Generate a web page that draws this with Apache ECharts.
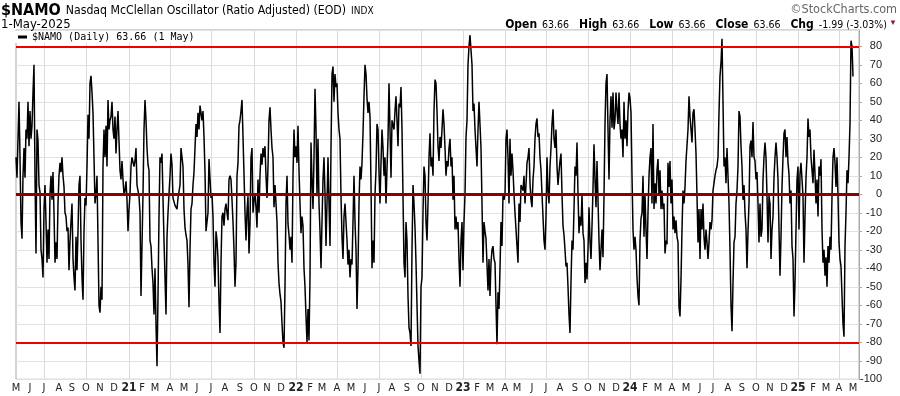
<!DOCTYPE html>
<html><head><meta charset="utf-8">
<script src="https://cdn.jsdelivr.net/npm/echarts@6/dist/echarts.min.js"></script>
<style>html,body{margin:0;padding:0;background:#fff}#c{width:900px;height:396px}</style>
</head><body><div id="c"></div>
<script>
// ---- data (about one value per 1.5 trading days) ----
// May 2020 - Sep 2020
const namoPart1 = [20,9,30,50,20,-15,-24,10,25,9,35,30,50,26,45,30,37,55,70,10,-32,35,29,5,1,-30,-35,-45,-8,5,-15,-37,-19,-35,0,10,-3,12,-10,-37,-26,-35,-5,10,17,12,20,10,4,-10,-12,-20,-18,-41,-25,-15,-5,-35,-45,-52,-23,-41,-20,5,10,-25,-45,-57,-20,-2,-6,15,43,30,60,64,55,44,20,-5,0,10,-25,-60,-64,-50,-57,15,35,20,37,15];
// Oct 2020 - Mar 2021
const namoPart2 = [51,35,40,42,50,35,30,42,22,35,45,29,13,8,18,8,0,2,7,-3,-20,-8,0,15,20,20,15,18,25,5,5,-1,-10,-55,-55,0,35,51,40,25,16,13,-25,-28,-40,-48,-65,-40,-70,-93,-55,-12,20,17,22,-2,-25,-45,-65,-23,-10,0,10,22,16,-2,-3,-6,-5,-8,-2,-1,5,25,25,15,-8,-18,-22,-25,-38,-61,-30,-8,-5,5,12,12,38,31,44,35,48];
// Apr 2021 - Dec 2021
const namoPart3 = [49,40,45,31,12,-20,-15,-10,19,19,-2,0,-12,-37,-50,-20,-25,-35,-58,-75,-37,-12,-10,-17,-8,-5,-10,-14,8,10,8,-3,-15,-30,-50,-37,10,17,37,40,45,51,31,11,-10,-25,-9,-1,-32,-16,20,25,-10,-3,0,-7,-18,8,-10,10,22,16,25,20,26,10,-2,15,40,47,35,25,20,-7,5,4,-15,-37,-48,-54,-58,-70,-80,-83,-50,-5,10,-16,-22,-30,-23,-37,10];
// Dec 2021 - Jul 2022
const namoPart4 = [35,20,26,17,37,13,-5,-21,-12,-17,-40,-50,-66,-80,-62,-79,-45,28,8,-8,20,57,35,-1,30,-5,-20,-40,-15,8,20,0,-28,-5,20,-5,-28,25,65,69,50,65,58,60,44,35,30,-1,-23,-35,-12,-5,-15,-25,-38,-30,-45,-35,-38,-15,10,-15,-30,-62,-40,-5,15,8,17,33,53,70,65,52,44,50,42,5,-40,-25,-37,0,13,38,35,12,-5,17,35,25,10,20,-5];
// Jul 2022 - Jan 2023
const namoPart5 = [14,30,60,35,9,40,40,35,45,53,40,26,49,47,58,35,-1,-37,-45,-15,-25,-55,-72,-75,-82,-30,5,-5,-18,-37,-60,-82,-90,-97,-50,-45,-10,15,10,-15,-25,-5,20,33,15,20,10,45,62,60,45,26,18,31,25,35,46,38,25,10,18,15,25,30,15,20,-3,10,-19,-12,-19,-15,-35,-50,-25,-15,-41,-15,0,31,40,70,80,86,85,70,45,49,35,36,15,35,50];
// Jan 2023 - Aug 2023
const namoPart6 = [50,25,-5,-37,-15,-20,-24,-23,-52,-35,-55,-37,-30,-28,-35,-37,-60,-81,-53,-62,-40,-15,-28,0,-3,0,30,35,20,-5,30,10,22,13,0,-10,-19,-28,-37,-5,-15,5,4,2,10,-5,5,17,20,25,6,-3,-7,8,15,30,38,41,31,33,20,13,0,-12,-25,-30,-12,20,2,-5,15,25,38,46,30,25,35,15,5,12,18,22,0,-17,-22,-30,-39,-37,-50,-65,-75,-47,-25];
// Aug 2023 - Feb 2024
const namoPart7 = [-30,-8,15,10,28,0,-21,-12,-17,0,-21,-25,-48,-37,-46,-30,-7,-25,-35,-17,3,27,8,-7,18,-3,-25,-41,-30,-19,-34,-1,38,60,65,35,8,40,53,36,55,35,40,55,45,38,55,38,30,35,20,50,30,40,26,45,55,52,44,10,-19,-30,-23,-30,-45,-55,-60,-25,-13,-10,10,-23,0,-19,-35,-10,10,20,25,-5,38,-8,6,-5,13,19,0,13,-8,2,-8,-5,-32];
// Feb 2024 - Sep 2024
const namoPart8 = [-25,-27,17,4,18,-5,8,-19,-12,-21,-14,-23,-26,-61,-66,-46,-19,2,-5,4,18,19,35,53,42,35,28,44,46,35,22,-1,-26,-8,-35,-8,-19,-5,-23,-30,-19,-26,-35,-26,-15,-19,-14,2,6,10,13,15,20,44,64,71,84,50,15,20,6,25,10,-5,-30,-60,-74,-48,-26,-23,-5,2,15,45,42,26,15,-3,5,-10,-19,-40,-20,-5,26,29,20,39,20,18,8,12,-5];
// Oct 2024 - 1 May 2025
const namoPart9 = [-26,-5,-23,-19,8,20,28,20,-1,-26,-1,-5,-35,-19,-12,9,20,28,20,8,-19,-44,-23,4,20,33,35,20,31,17,11,-5,2,-28,-35,-66,-48,-19,8,15,-19,11,17,8,-1,-37,-12,9,20,41,31,35,20,13,6,24,11,-5,8,-12,15,10,19,-19,-37,-30,-44,-34,-50,-28,-37,-23,-30,-1,20,25,17,4,20,-1,-26,-35,-39,-55,-70,-77,-28,-10,13,6,20,38,83,80,63.66];

const firstDay = '2020-05-01';
const lastDay = '2025-05-01';
const refLevels = [80, 0, -80];
const yMin = -100, yMax = 88.8, yStep = 10;
const monthLetters = ['J','F','M','A','M','J','J','A','S','O','N','D'];
const quarterMonths = [1, 4, 7, 10];
const seriesName = '$NAMO (Daily) 63.66 (1 May)';
const quote = {open: '63.66', high: '63.66', low: '63.66', close: '63.66', chg: '-1.99', chgPct: '-3.03'};

// ---- categories: weekdays between first and last day, evenly sampled ----
const values = [].concat(namoPart1, namoPart2, namoPart3, namoPart4, namoPart5, namoPart6, namoPart7, namoPart8, namoPart9);
function weekdays(a, b) {
  const out = [];
  let t = Date.parse(a + 'T00:00:00Z');
  const end = Date.parse(b + 'T00:00:00Z');
  while (t <= end) {
    const d = new Date(t).getUTCDay();
    if (d !== 0 && d !== 6) out.push(t);
    t += 86400000;
  }
  return out;
}
const W = weekdays(firstDay, lastDay);
const N = values.length;
const fmt = t => new Date(t).toISOString().slice(0, 10);
const cats = values.map((_, i) => fmt(W[Math.round(i * (W.length - 1) / (N - 1))]));
const lastT = W[W.length - 1];
for (let k = 1; k <= 6; k++) cats.push(fmt(lastT + k * 2 * 86400000)); // empty room before the right frame
const monthStart = cats.map((c, i) => i === 0 || c.slice(0, 7) !== cats[i - 1].slice(0, 7));

const NARROW = '"Liberation Sans Narrow","Arial Narrow","DejaVu Sans Condensed",sans-serif';

const chart = echarts.init(document.getElementById('c'), null, {renderer: 'canvas'});
chart.setOption({
  animation: false,
  backgroundColor: '#fff',
  title: [
    {left: 1, top: 2, padding: 0,
     text: '{a|$NAMO} {b|Nasdaq McClellan Oscillator (Ratio Adjusted) (EOD)} {c|INDX}',
     textStyle: {rich: {
       a: {fontFamily: NARROW, fontWeight: 'bold', fontSize: 16, color: '#000'},
       b: {fontFamily: NARROW, fontWeight: 'normal', fontSize: 12.2, color: '#000'},
       c: {fontFamily: NARROW, fontWeight: 'normal', fontSize: 10, color: '#000'}
     }}},
    {left: 1, top: 18, padding: 0, text: '1-May-2025',
     textStyle: {fontFamily: NARROW, fontSize: 13, fontWeight: 'normal', color: '#000'}},
    {right: 3, top: 3, padding: 0, text: '©StockCharts.com',
     textStyle: {fontFamily: NARROW, fontSize: 12.5, fontWeight: 'normal', color: '#666'}},
    {right: 13, top: 16, padding: 0,
     text: '{k|Open} {v|' + quote.open + '}  {k|High} {v|' + quote.high + '}  {k|Low} {v|' + quote.low +
           '}  {k|Close} {v|' + quote.close + '}  {k|Chg} {v|' + quote.chg + ' (' + quote.chgPct + '%)}',
     textStyle: {rich: {
       k: {fontFamily: NARROW, fontWeight: 'bold', fontSize: 12, color: '#000'},
       v: {fontFamily: NARROW, fontWeight: 'normal', fontSize: 10.5, color: '#000'}
     }}},
    {right: 3, top: 19, padding: 0, text: '▼',
     textStyle: {fontSize: 8, color: '#8b1a3a', fontWeight: 'normal'}}
  ],
  legend: {
    left: 15, top: 31, padding: [1, 3, 1, 3], backgroundColor: '#fff',
    itemWidth: 9, itemHeight: 3, itemGap: 0,
    data: [{name: seriesName, icon: 'rect'}],
    textStyle: {fontFamily: '"DejaVu Sans Mono",monospace', fontSize: 10, color: '#000'}
  },
  grid: {left: 16, right: 41, top: 30, bottom: 16.7, show: true, borderColor: '#aaa', borderWidth: 1},
  xAxis: {
    type: 'category', data: cats, boundaryGap: false,
    axisLine: {show: false}, axisTick: {show: false},
    axisLabel: {
      interval: (i) => monthStart[i], margin: 3, fontSize: 11, fontFamily: NARROW, color: '#222',
      formatter: (v) => {
        const m = +v.slice(5, 7);
        return m === 1 ? '{y|' + v.slice(2, 4) + '}' : monthLetters[m - 1];
      },
      rich: {y: {fontFamily: NARROW, fontWeight: 'bold', fontSize: 12, color: '#222'}}
    },
    splitLine: {show: true, interval: (i) => monthStart[i] && quarterMonths.includes(+cats[i].slice(5, 7)),
                lineStyle: {color: '#dcdcdc', width: 1}}
  },
  yAxis: {
    type: 'value', position: 'right', min: yMin, max: yMax, interval: yStep,
    axisLine: {show: true, lineStyle: {color: '#aaa'}},
    axisTick: {show: true, length: 3, lineStyle: {color: '#aaa'}},
    axisLabel: {margin: 23, align: 'right', fontSize: 11, fontFamily: '"Liberation Sans",Arial,sans-serif',
                color: '#222', showMaxLabel: false},
    splitLine: {show: true, lineStyle: {color: '#e2e2e2', width: 1}}
  },
  series: [{
    name: seriesName, type: 'line', data: values, symbol: 'none',
    lineStyle: {color: '#000', width: 1.5}, itemStyle: {color: '#000'},
    markLine: {
      symbol: ['none', 'none'], silent: true, label: {show: false},
      data: refLevels.map(v => ({yAxis: v, lineStyle: {type: 'solid', color: v === 0 ? '#8b0000' : '#ee0000', width: v === 0 ? 3 : 2}}))
    }
  }]
});
</script></body></html>
